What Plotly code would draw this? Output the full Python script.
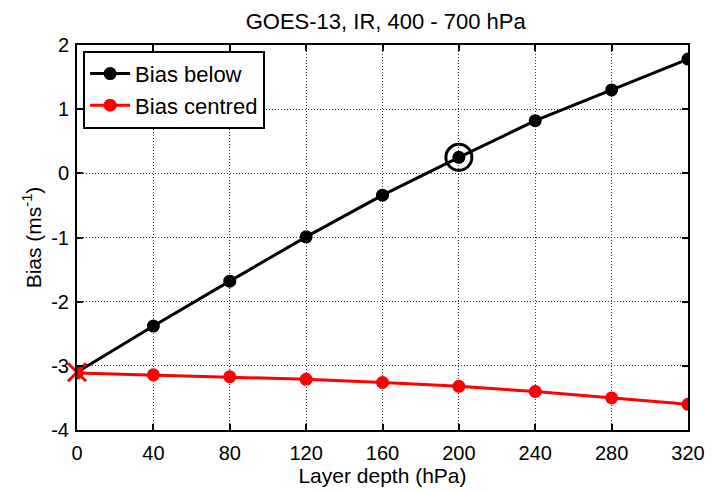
import plotly.graph_objects as go

layer_depth = [0, 40, 80, 120, 160, 200, 240, 280, 320]
bias_below = [-3.10, -2.38, -1.68, -0.99, -0.34, 0.25, 0.82, 1.30, 1.78]
bias_centred = [-3.11, -3.14, -3.17, -3.21, -3.26, -3.32, -3.40, -3.50, -3.60]
x_ticks = [0, 40, 80, 120, 160, 200, 240, 280, 320]
y_ticks = [-4, -3, -2, -1, 0, 1, 2]
y_tick_labels = ["-4", "-3", "-2", "-1", "0", "1", "2"]
highlight_x = [200]
highlight_y = [0.25]
start_x = [0]
start_y = [-3.1]

FONT = "Liberation Sans, Arial, sans-serif"

fig = go.Figure()
fig.add_trace(go.Scatter(x=layer_depth, y=bias_below, mode="lines+markers", name="Bias below",
                         line=dict(color="black", width=3), marker=dict(color="black", size=13)))
fig.add_trace(go.Scatter(x=layer_depth, y=bias_centred, mode="lines+markers", name="Bias centred",
                         line=dict(color="red", width=3), marker=dict(color="red", size=13)))
fig.add_trace(go.Scatter(x=highlight_x, y=highlight_y, mode="markers", showlegend=False,
                         marker=dict(symbol="circle-open", color="black", size=26, line=dict(width=3))))
fig.add_trace(go.Scatter(x=start_x, y=start_y, mode="markers", showlegend=False, cliponaxis=False,
                         marker=dict(symbol="x-thin-open", color="red", size=18, line=dict(width=3, color="red"))))

axis_common = dict(showline=True, linecolor="black", linewidth=2, mirror="ticks", ticks="inside",
                   ticklen=6, tickwidth=2, tickcolor="black", showgrid=True, gridcolor="#333333",
                   griddash="1px,2px", gridwidth=1, zeroline=False,
                   tickfont=dict(size=20, color="black", family=FONT))

fig.update_xaxes(range=[0, 320], tickvals=x_ticks, ticklabelstandoff=4, automargin=False,
                 title=dict(text="Layer depth (hPa)", standoff=2, font=dict(size=21, color="black")),
                 **axis_common)
fig.update_yaxes(range=[-4, 2], tickvals=y_ticks, ticktext=y_tick_labels, ticklabelstandoff=2,
                 automargin=True,
                 title=dict(text="Bias (ms<sup>-1</sup>)", standoff=4, font=dict(size=21, color="black")),
                 **axis_common)

fig.update_layout(
    width=721, height=492,
    margin=dict(l=77, r=33, t=45, b=62),
    paper_bgcolor="white", plot_bgcolor="white",
    font=dict(family=FONT, size=20, color="black"),
    title=dict(text="GOES-13, IR, 400 - 700 hPa", x=0.535, xanchor="center", y=0.957, yanchor="middle",
               font=dict(size=22, color="black")),
    legend=dict(x=0.01, y=0.985, xanchor="left", yanchor="top", bgcolor="white",
                bordercolor="black", borderwidth=2, font=dict(size=22), itemwidth=40,
                tracegroupgap=0),
)

fig.write_html("out.html")
